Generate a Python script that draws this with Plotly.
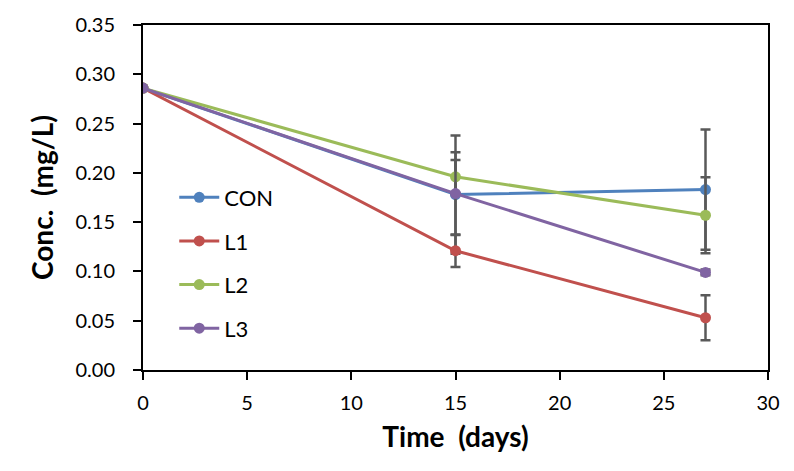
import plotly.graph_objects as go

days = [0, 15, 27]
series_names = ["CON", "L1", "L2", "L3"]
con = [0.286, 0.178, 0.183]
l1 = [0.286, 0.121, 0.053]
l2 = [0.286, 0.196, 0.157]
l3 = [0.286, 0.179, 0.099]
con_err = [0, 0.060, 0.061]
l1_err = [0, 0.0165, 0.0228]
l2_err = [0, 0.017, 0.0385]
l3_err = [0, 0.042, 0.003]
x_ticks = [0, 5, 10, 15, 20, 25, 30]
y_ticks = [0, 0.05, 0.10, 0.15, 0.20, 0.25, 0.30, 0.35]

colors = ["#4F81BD", "#C0504D", "#9BBB59", "#8064A2"]
values = [con, l1, l2, l3]
errors = [con_err, l1_err, l2_err, l3_err]

fig = go.Figure()
for name, v, e, c in zip(series_names, values, errors, colors):
    fig.add_trace(go.Scatter(
        x=days, y=v, name=name, mode="lines+markers",
        legendgroup=name,
        line=dict(color=c, width=3),
        marker=dict(color=c, size=11),
        error_y=dict(type="data", array=e, visible=True, color="#595959",
                     thickness=2.5, width=5),
    ))

font_family = "Lato, 'Open Sans', sans-serif"
fig.update_layout(
    width=794, height=471,
    margin=dict(l=143, r=26, t=18, b=101),
    paper_bgcolor="white", plot_bgcolor="white",
    font=dict(family=font_family, color="black", size=20),
    showlegend=True,
    legend=dict(x=0.05, y=0.31, xanchor="left", yanchor="middle",
                bgcolor="rgba(0,0,0,0)", font=dict(size=22, family=font_family),
                tracegroupgap=12, itemwidth=40),
    xaxis=dict(range=[0, 30], tickvals=x_ticks, ticktext=[str(t) for t in x_ticks],
               showgrid=False, zeroline=False, showline=True, linecolor="black",
               linewidth=2, mirror=True, ticks="outside", ticklen=8, tickwidth=2,
               tickcolor="black", tickfont=dict(size=20), ticklabelstandoff=6,
               title=dict(text="<b>Time&nbsp; (days)</b>", font=dict(size=28), standoff=14)),
    yaxis=dict(range=[0, 0.35], tickvals=y_ticks, ticktext=[f"{t:.2f}" for t in y_ticks],
               showgrid=False, zeroline=False, showline=True, linecolor="black",
               linewidth=2, mirror=True, ticks="outside", ticklen=8, tickwidth=2,
               tickcolor="black", tickfont=dict(size=20), ticklabelstandoff=14,
               title=dict(text="<b>Conc.&nbsp; (mg/L)</b>", font=dict(size=28), standoff=14)),
)

fig.write_html("out.html")
